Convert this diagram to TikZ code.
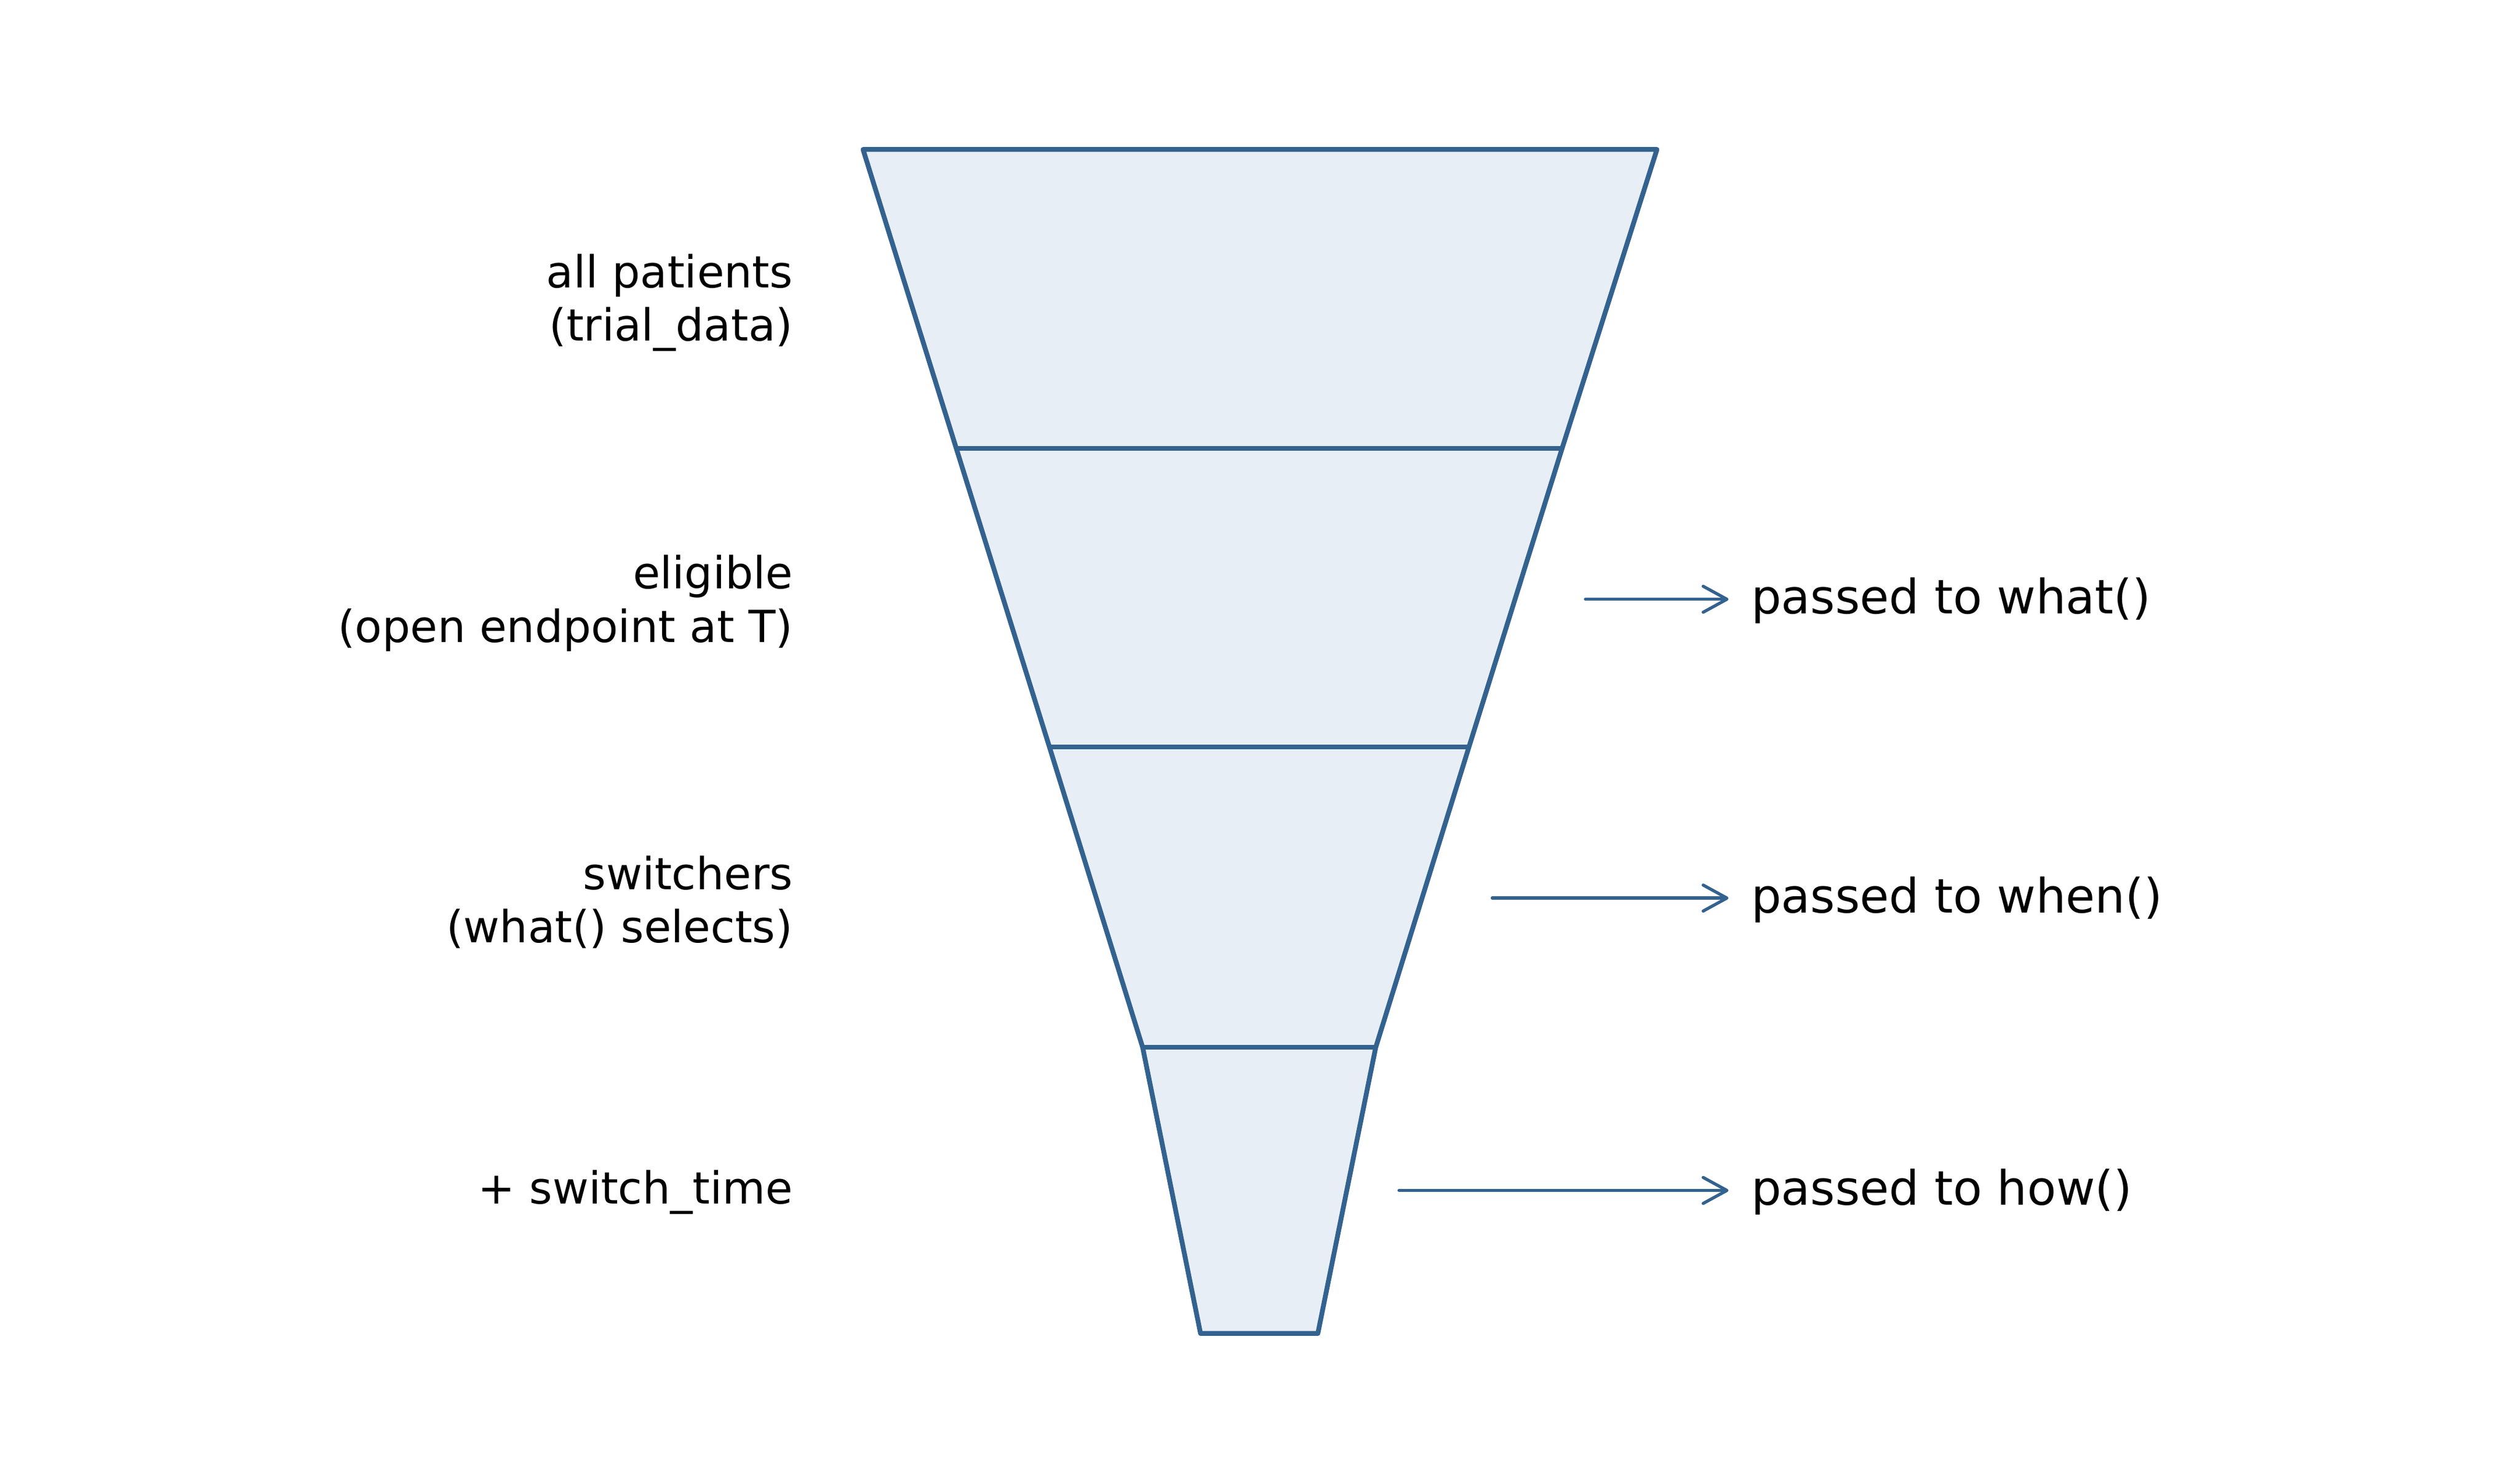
\documentclass[tikz,border=0pt]{standalone}
\usepackage{fontspec}
\setmainfont{DejaVu Sans}
\usetikzlibrary{arrows.meta}
\definecolor{funnelline}{HTML}{33628F}
\definecolor{funnelfill}{HTML}{E8EEF6}
\tikzset{
  funnelseg/.style={draw=funnelline, fill=funnelfill, line width=0.85pt, line join=round},
  divider/.style={draw=funnelline, line width=0.85pt},
  leftlabel/.style={anchor=east, align=right, inner sep=0pt, font=\fontsize{7.83pt}{9.4pt}\selectfont},
  rightlabel/.style={anchor=west, inner sep=0pt, font=\fontsize{8.4pt}{10pt}\selectfont},
  passarrow/.style={draw=funnelline, line width=0.55pt, line cap=round, shorten >=0.135cm,
    -{Straight Barb[length=4.2pt, width=4.6pt, line cap=round, line join=round]}}
}
\begin{document}
\begin{tikzpicture}[x=0.01cm, y=-0.01cm]
\useasboundingbox (0,0) rectangle (1568,914.67);
% funnel corners
\coordinate (l0) at (537,93);  \coordinate (r0) at (1031,93);
\coordinate (l1) at (595,279); \coordinate (r1) at (972,279);
\coordinate (l2) at (653,465); \coordinate (r2) at (914,465);
\coordinate (l3) at (711,652); \coordinate (r3) at (856,652);
\coordinate (l4) at (747,830); \coordinate (r4) at (820,830);
\path[funnelseg] (l0) -- (r0) -- (r1) -- (r2) -- (r3) -- (r4) -- (l4) -- (l3) -- (l2) -- (l1) -- cycle;
\draw[divider] (l1) -- (r1);
\draw[divider] (l2) -- (r2);
\draw[divider] (l3) -- (r3);
% left labels
\node[leftlabel] (s0) at (494,188.5) {all patients\\(trial\_data)};
\node[leftlabel] (s1) at (494,375.5) {eligible\\(open endpoint at T)};
\node[leftlabel] (s2) at (494,561.5) {switchers\\(what() selects)};
\node[leftlabel] (s3) at (494,742) {+ switch\_time};
% right labels
\node[rightlabel] (p1) at (1089,374) {passed to what()};
\node[rightlabel] (p2) at (1089,560) {passed to when()};
\node[rightlabel] (p3) at (1089,742) {passed to how()};
% arrows
\coordinate (a1) at (986.5,373);
\coordinate (a2) at (928.5,559);
\coordinate (a3) at (870.5,741);
\draw[passarrow] (a1) -- (a1 -| p1.west);
\draw[passarrow] (a2) -- (a2 -| p2.west);
\draw[passarrow] (a3) -- (a3 -| p3.west);
\end{tikzpicture}
\end{document}
